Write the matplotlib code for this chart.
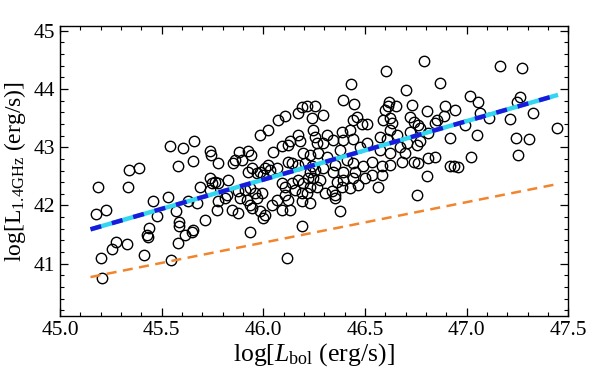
import matplotlib
matplotlib.use('Agg')
import matplotlib.pyplot as plt
from matplotlib.ticker import MultipleLocator, FormatStrFormatter

# log L_bol values of the sources
log_lbol = [
    45.541, 45.607, 45.659, 45.341, 45.390, 45.582, 45.188, 45.336, 45.459, 45.533,
    45.177, 45.226, 45.475, 45.571, 45.439, 45.587, 45.586, 45.615, 45.430, 45.435,
    45.276, 45.254, 45.328, 45.579, 45.200, 45.415, 45.545, 45.208, 45.654,
    46.107, 46.071, 46.173, 46.214, 46.190, 46.239, 46.025, 45.984, 46.173, 46.132,
    46.123, 45.738, 45.745, 45.881, 45.923, 45.942, 45.779, 45.853, 45.861, 45.894,
    46.050, 46.091, 46.181, 46.197, 46.123, 46.140, 46.025, 46.009, 45.984, 45.943,
    45.927, 45.968, 46.000, 46.033, 46.066, 46.173, 46.206, 46.230, 46.239, 45.738,
    45.763, 45.779, 45.746, 45.828, 45.689, 45.738, 45.820, 45.877, 45.910, 45.935,
    45.960, 45.993, 45.968, 45.919, 45.886, 46.091, 46.107, 46.140, 46.173, 46.197,
    46.222, 46.230, 46.156, 46.189, 46.214, 46.107, 46.066, 46.123, 46.189, 45.812,
    45.779, 45.673, 45.631, 45.771, 45.845, 45.877, 45.935, 45.943, 45.984, 46.009,
    46.000, 46.041, 46.091, 46.132, 45.714, 45.656, 45.648, 45.935, 46.189, 46.116,
    46.254,
    46.793, 46.604, 46.871, 46.431, 46.703, 46.391, 46.448, 46.255, 46.620, 46.613,
    46.599, 46.654, 46.731, 46.804, 46.296, 46.460, 46.443, 46.485, 46.512, 46.591,
    46.624, 46.632, 46.722, 46.739, 46.763, 46.854, 46.845, 46.246, 46.312, 46.386,
    46.427, 46.345, 46.394, 46.443, 46.509, 46.575, 46.624, 46.608, 46.657, 46.722,
    46.771, 46.812, 46.263, 46.296, 46.230, 46.271, 46.312, 46.378, 46.476, 46.575,
    46.624, 46.673, 46.698, 46.706, 46.755, 46.771, 46.763, 46.812, 46.845, 46.804,
    46.739, 46.681, 46.624, 46.583, 46.534, 46.493, 46.443, 46.411, 46.353, 46.296,
    46.255, 46.345, 46.394, 46.452, 46.534, 46.583, 46.501, 46.443, 46.394, 46.361,
    46.280, 46.246, 46.263, 46.386, 46.468, 46.427, 46.566, 46.337, 46.353, 46.304,
    46.353, 46.230, 46.755, 46.378,
    47.165, 47.272, 47.018, 47.056, 47.264, 47.247, 46.895, 46.944, 46.891, 47.067,
    47.108, 47.214, 47.329, 46.990, 47.444, 46.919, 47.050, 47.243, 47.308, 46.919,
    46.940, 46.960, 47.022, 47.255,
]

# log L_1.4GHz values of the same sources
log_lradio = [
    43.03, 42.99, 43.11, 42.61, 42.65, 42.67, 42.32, 42.31, 42.07, 42.15,
    41.86, 41.92, 41.82, 41.90, 41.62, 41.72, 41.64, 41.50, 41.50, 41.46,
    41.38, 41.26, 41.34, 41.35, 41.10, 41.15, 41.06, 40.75, 42.77,
    43.54, 43.46, 43.59, 43.71, 43.69, 43.50, 43.30, 43.21, 43.21, 43.10,
    43.04, 42.94, 42.86, 42.92, 42.94, 42.87, 42.73, 42.73, 42.78, 42.78,
    42.92, 43.03, 43.10, 42.90, 42.75, 42.73, 42.70, 42.64, 42.58, 42.64,
    42.58, 42.55, 42.53, 42.61, 42.64, 42.70, 42.73, 42.58, 42.67, 42.47,
    42.41, 42.38, 42.38, 42.44, 42.32, 42.27, 42.18, 42.24, 42.27, 42.30,
    42.21, 42.21, 42.13, 42.10, 42.13, 42.38, 42.32, 42.38, 42.44, 42.38,
    42.47, 42.32, 42.27, 42.21, 42.21, 42.18, 42.10, 42.10, 42.07, 42.13,
    42.07, 42.04, 42.07, 41.92, 41.92, 41.87, 42.01, 41.95, 41.90, 41.84,
    41.78, 42.01, 41.92, 41.92, 41.75, 41.58, 41.55, 41.55, 41.65, 41.10,
    43.18,
    44.48, 44.31, 44.10, 44.09, 43.98, 43.81, 43.75, 43.70, 43.78, 43.70,
    43.64, 43.71, 43.73, 43.63, 43.55, 43.52, 43.47, 43.40, 43.40, 43.47,
    43.50, 43.41, 43.52, 43.44, 43.38, 43.47, 43.41, 43.30, 43.21, 43.27,
    43.30, 43.13, 43.13, 43.15, 43.07, 43.18, 43.30, 43.15, 43.21, 43.27,
    43.33, 43.24, 43.07, 43.07, 42.87, 42.90, 42.84, 42.95, 43.01, 42.95,
    42.90, 43.01, 42.90, 43.07, 43.04, 43.10, 42.73, 42.81, 42.84, 42.51,
    42.75, 42.75, 42.70, 42.67, 42.75, 42.67, 42.73, 42.78, 42.70, 42.64,
    42.61, 42.58, 42.58, 42.58, 42.53, 42.53, 42.47, 42.47, 42.44, 42.41,
    42.44, 42.47, 42.32, 42.32, 42.35, 42.30, 42.32, 42.24, 42.18, 42.21,
    42.13, 42.04, 42.18, 41.91,
    44.40, 44.36, 43.88, 43.77, 43.86, 43.77, 43.70, 43.64, 43.54, 43.58,
    43.51, 43.49, 43.59, 43.38, 43.33, 43.16, 43.21, 43.16, 43.15, 42.68,
    42.68, 42.66, 42.84, 42.86,
]

# end points of the fitted relations
fit_x = [45.15, 47.45]
fit_blue_y = [41.59, 43.90]
fit_orange_y = [40.77, 42.37]

plt.rcParams['font.family'] = ['Liberation Serif', 'DejaVu Serif']
plt.rcParams['mathtext.fontset'] = 'custom'
plt.rcParams['mathtext.rm'] = 'Liberation Serif'
plt.rcParams['mathtext.it'] = 'Liberation Serif:italic'

fig = plt.figure(figsize=(6.0, 3.79), dpi=100)
ax = fig.add_axes([0.1, 0.166, 0.847, 0.765])

ax.plot(log_lbol, log_lradio, 'o', ms=7.5, mfc='none', mec='black', mew=1.0, zorder=2)

# fitted relations
ax.plot(fit_x, fit_orange_y, color='#f0852d', lw=1.8, dashes=(4, 2.6), zorder=3)
ax.plot(fit_x, fit_blue_y, color='#33d6f0', lw=3.2, solid_capstyle='butt', zorder=3)
ax.plot(fit_x, fit_blue_y, color='#1a1adc', lw=3.2, dashes=(2.5, 2.5), zorder=4)

ax.set_xlim(45.0, 47.5)
ax.set_ylim(40.1, 45.08)
ax.xaxis.set_major_locator(MultipleLocator(0.5))
ax.xaxis.set_minor_locator(MultipleLocator(0.1))
ax.yaxis.set_major_locator(MultipleLocator(1))
ax.yaxis.set_minor_locator(MultipleLocator(0.2))
ax.xaxis.set_major_formatter(FormatStrFormatter('%.1f'))
ax.yaxis.set_major_formatter(FormatStrFormatter('%d'))
ax.tick_params(which='both', direction='in', top=True, right=True, labelsize=15.5)
ax.tick_params(which='major', length=6, width=0.9)
ax.tick_params(which='minor', length=3, width=0.8)
for s in ax.spines.values():
    s.set_linewidth(1.0)

ax.set_xlabel(r'log[$L_{\rm bol}$ (erg/s)]', fontsize=18.5, labelpad=1)
ax.set_ylabel(r'log[L$_{\rm 1.4GHz}$ (erg/s)]', fontsize=17, labelpad=4)

fig.savefig('out.png', dpi=100)
